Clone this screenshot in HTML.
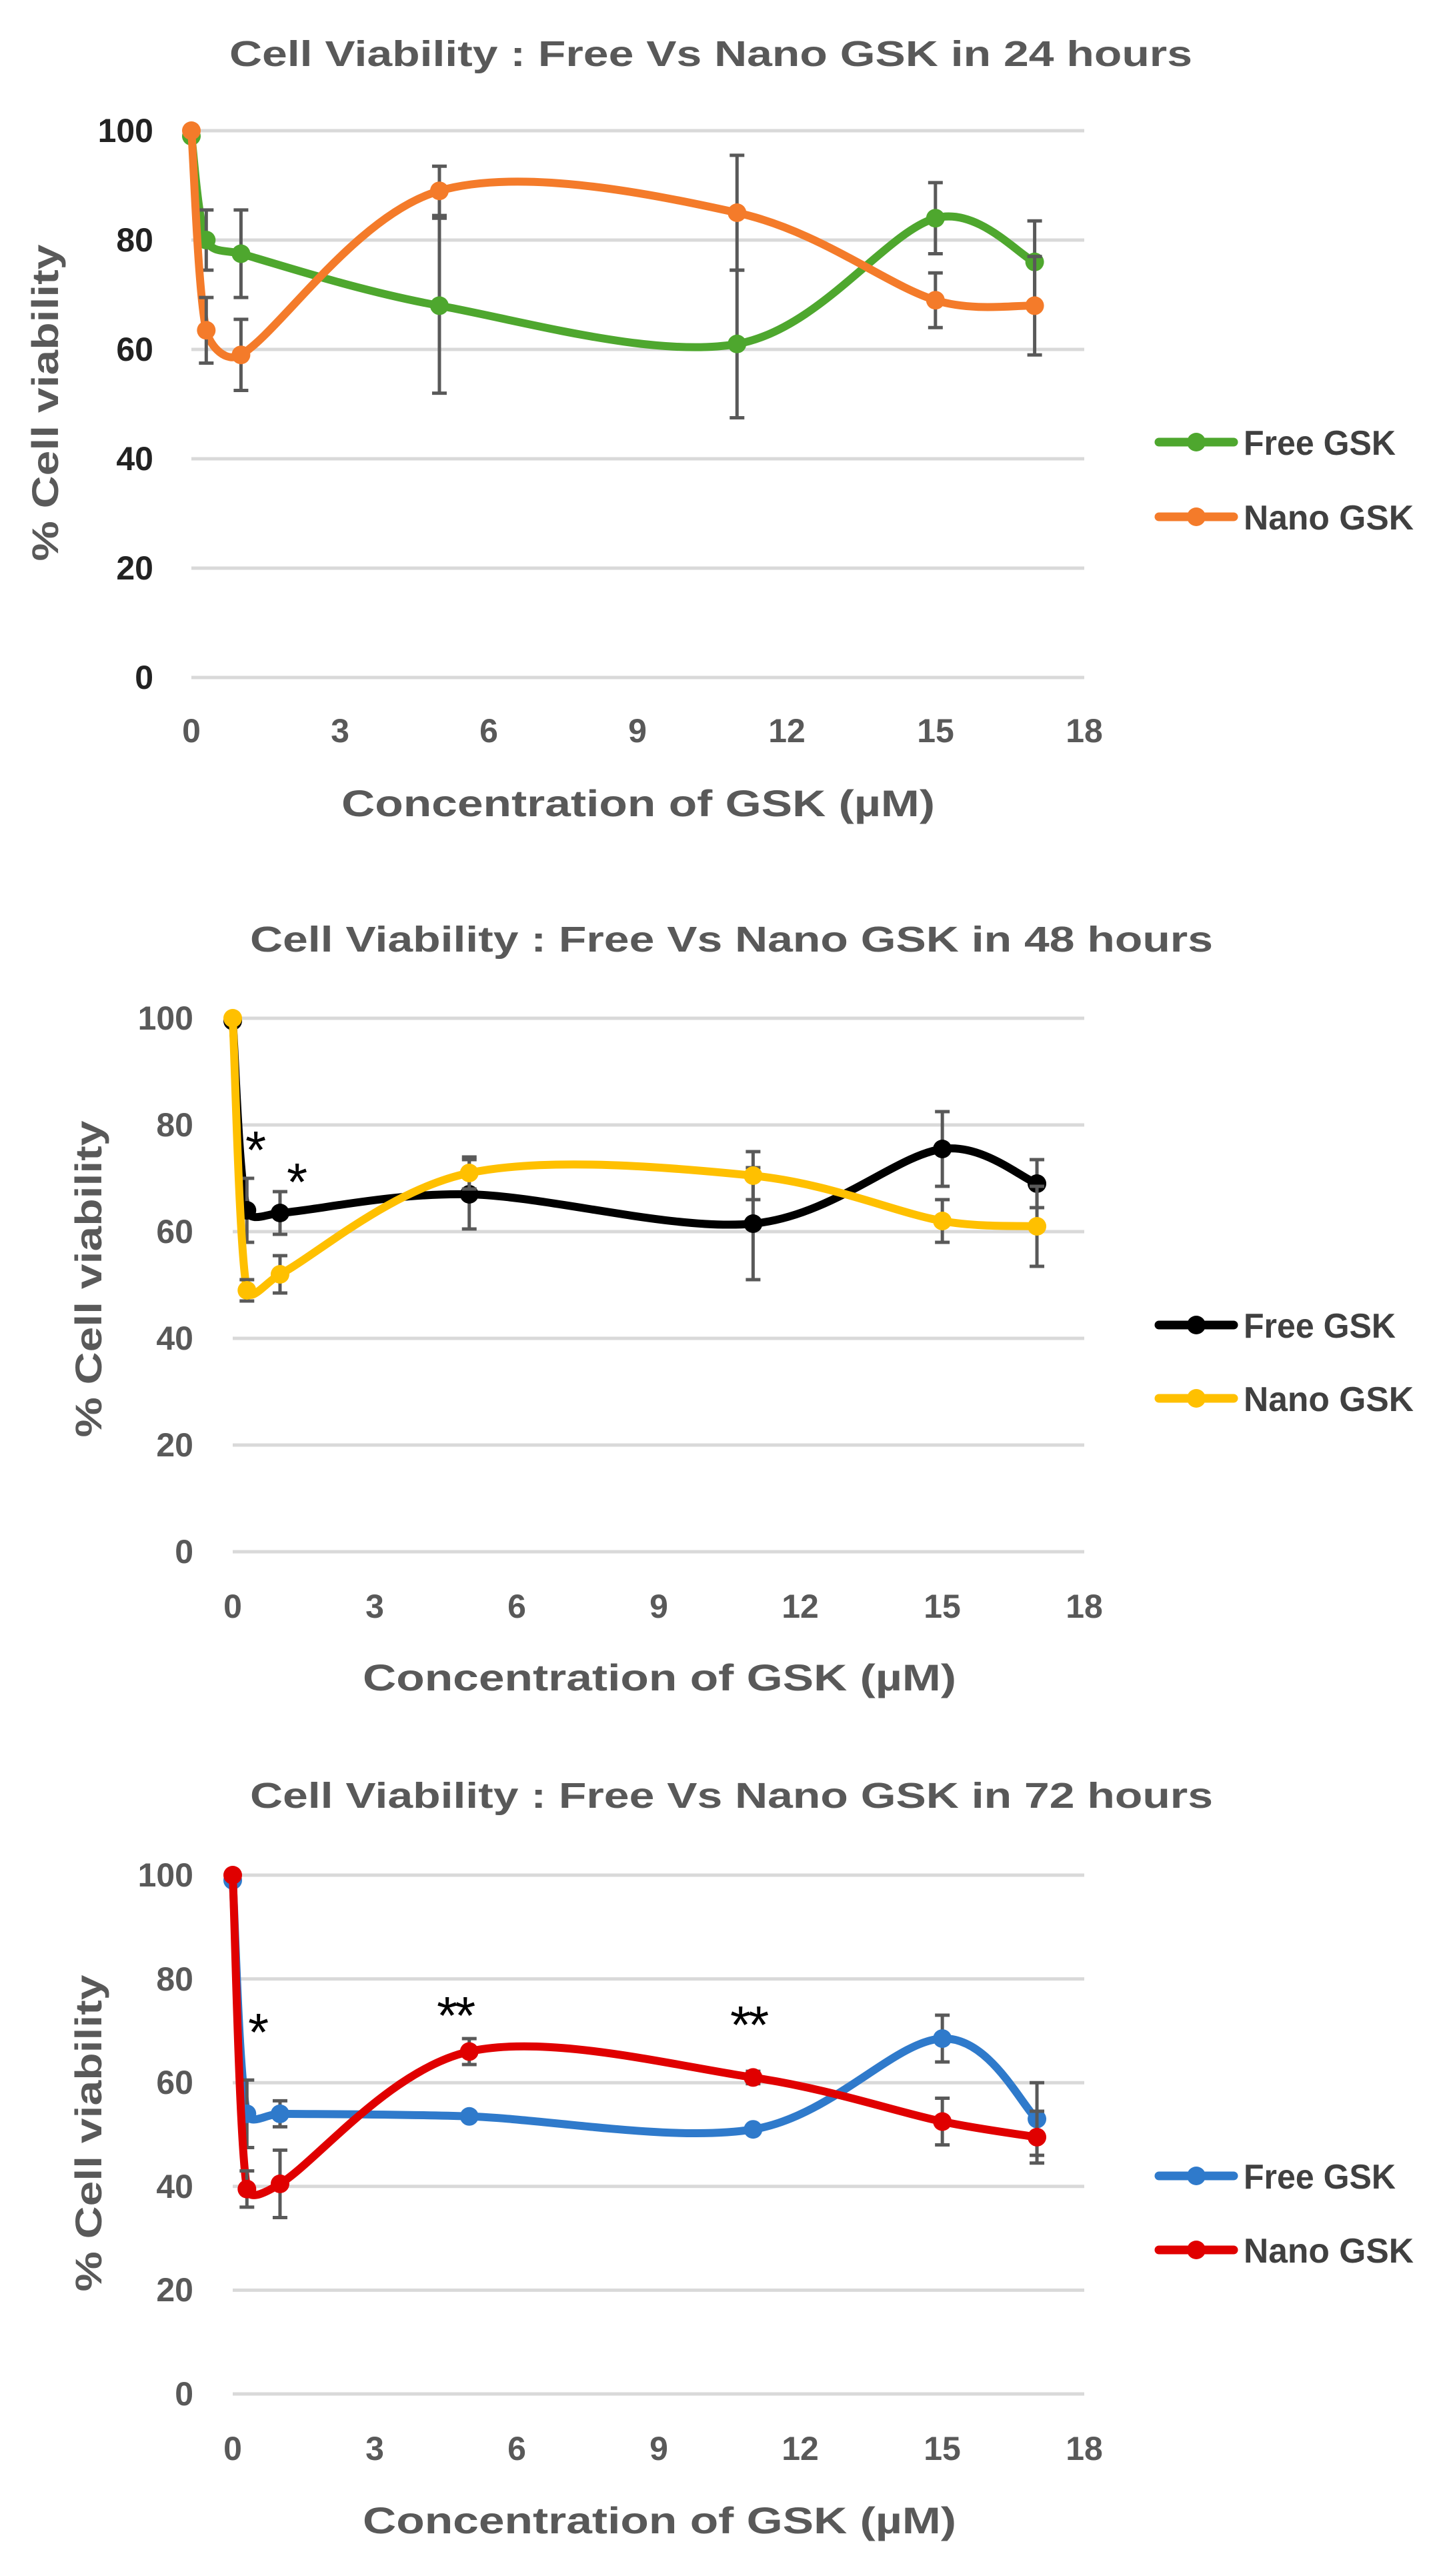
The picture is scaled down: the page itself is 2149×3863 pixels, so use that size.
<!DOCTYPE html>
<html><head><meta charset="utf-8"><style>
html,body{margin:0;padding:0;background:#fff;}
svg{display:block;}
text{font-family:"Liberation Sans",sans-serif;}
</style></head><body>
<svg id="s" xmlns="http://www.w3.org/2000/svg" width="2149" height="3863" viewBox="0 0 2149 3863">
<rect width="2149" height="3863" fill="#fff"/>
<g id="grids"></g>
<g id="data"></g>
<!-- Chart 1 text -->
<text x="1066" y="99" text-anchor="middle" font-size="54" font-weight="bold" fill="#595959" textLength="1444" lengthAdjust="spacingAndGlyphs">Cell Viability : Free Vs Nano GSK in 24 hours</text>
<g font-size="50" fill="#222" text-anchor="end" font-weight="bold">
<text x="230" y="213">100</text><text x="230" y="377">80</text><text x="230" y="541">60</text><text x="230" y="705">40</text><text x="230" y="869">20</text><text x="230" y="1033">0</text>
</g>
<g font-size="50" fill="#595959" text-anchor="middle" font-weight="bold">
<text x="287" y="1113">0</text><text x="510" y="1113">3</text><text x="733" y="1113">6</text><text x="956" y="1113">9</text><text x="1180" y="1113">12</text><text x="1403" y="1113">15</text><text x="1626" y="1113">18</text>
</g>
<text x="957" y="1224" text-anchor="middle" font-size="56" font-weight="bold" fill="#595959" textLength="890" lengthAdjust="spacingAndGlyphs">Concentration of GSK (µM)</text>
<text transform="translate(87,604) rotate(-90)" text-anchor="middle" font-size="56" font-weight="bold" fill="#595959" textLength="475" lengthAdjust="spacingAndGlyphs">% Cell viability</text>
<g font-size="52" font-weight="bold" fill="#404040">
<text x="1865" y="682" textLength="228" lengthAdjust="spacingAndGlyphs">Free GSK</text>
<text x="1865" y="794" textLength="255" lengthAdjust="spacingAndGlyphs">Nano GSK</text>
</g>
<!-- Chart 2 text -->
<text x="1097" y="1427" text-anchor="middle" font-size="54" font-weight="bold" fill="#595959" textLength="1444" lengthAdjust="spacingAndGlyphs">Cell Viability : Free Vs Nano GSK in 48 hours</text>
<g font-size="50" fill="#595959" text-anchor="end" font-weight="bold">
<text x="290" y="1544">100</text><text x="290" y="1704">80</text><text x="290" y="1864">60</text><text x="290" y="2024">40</text><text x="290" y="2184">20</text><text x="290" y="2344">0</text>
</g>
<g font-size="50" fill="#595959" text-anchor="middle" font-weight="bold">
<text x="349" y="2426">0</text><text x="562" y="2426">3</text><text x="775" y="2426">6</text><text x="988" y="2426">9</text><text x="1200" y="2426">12</text><text x="1413" y="2426">15</text><text x="1626" y="2426">18</text>
</g>
<text x="989" y="2535" text-anchor="middle" font-size="56" font-weight="bold" fill="#595959" textLength="890" lengthAdjust="spacingAndGlyphs">Concentration of GSK (µM)</text>
<text transform="translate(152,1918) rotate(-90)" text-anchor="middle" font-size="56" font-weight="bold" fill="#595959" textLength="475" lengthAdjust="spacingAndGlyphs">% Cell viability</text>
<g font-size="52" font-weight="bold" fill="#404040">
<text x="1865" y="2006" textLength="228" lengthAdjust="spacingAndGlyphs">Free GSK</text>
<text x="1865" y="2116" textLength="255" lengthAdjust="spacingAndGlyphs">Nano GSK</text>
</g>
<g font-size="80" fill="#000"><text x="368" y="1752">*</text><text x="430" y="1800">*</text></g>
<!-- Chart 3 text -->
<text x="1097" y="2711" text-anchor="middle" font-size="54" font-weight="bold" fill="#595959" textLength="1444" lengthAdjust="spacingAndGlyphs">Cell Viability : Free Vs Nano GSK in 72 hours</text>
<g font-size="50" fill="#595959" text-anchor="end" font-weight="bold">
<text x="290" y="2829">100</text><text x="290" y="2985">80</text><text x="290" y="3140">60</text><text x="290" y="3296">40</text><text x="290" y="3451">20</text><text x="290" y="3607">0</text>
</g>
<g font-size="50" fill="#595959" text-anchor="middle" font-weight="bold">
<text x="349" y="3689">0</text><text x="562" y="3689">3</text><text x="775" y="3689">6</text><text x="988" y="3689">9</text><text x="1200" y="3689">12</text><text x="1413" y="3689">15</text><text x="1626" y="3689">18</text>
</g>
<text x="989" y="3799" text-anchor="middle" font-size="56" font-weight="bold" fill="#595959" textLength="890" lengthAdjust="spacingAndGlyphs">Concentration of GSK (µM)</text>
<text transform="translate(152,3199) rotate(-90)" text-anchor="middle" font-size="56" font-weight="bold" fill="#595959" textLength="475" lengthAdjust="spacingAndGlyphs">% Cell viability</text>
<g font-size="52" font-weight="bold" fill="#404040">
<text x="1865" y="3282" textLength="228" lengthAdjust="spacingAndGlyphs">Free GSK</text>
<text x="1865" y="3393" textLength="255" lengthAdjust="spacingAndGlyphs">Nano GSK</text>
</g>
<g font-size="80" fill="#000"><text x="372" y="3075">*</text><text x="655" y="3050" letter-spacing="-4">**</text><text x="1095" y="3064" letter-spacing="-4">**</text></g>
</svg>
<script>
var NS="http://www.w3.org/2000/svg";
var G=document.getElementById("grids"),D=document.getElementById("data");
function el(p,t,a){var e=document.createElementNS(NS,t);for(var k in a)e.setAttribute(k,a[k]);p.appendChild(e);return e;}
var X=[0,0.3,1,5,11,15,17];
var charts=[
 {x0:287,x1:1626,y100:196,y0:1016,ly:[663,775],
  s:[{c:"#4EA72E",v:[99,80,77.5,68,61,84,76],e:[0,5.5,8,16,13.5,6.5,7.5]},
     {c:"#F47B2A",v:[100,63.5,59,89,85,69,68],e:[0,6,6.5,4.5,10.5,5,9]}]},
 {x0:349,x1:1626,y100:1527,y0:2327,ly:[1987,2097],
  s:[{c:"#000000",v:[99.5,64,63.5,67,61.5,75.5,69],e:[0,6,4,6.5,10.5,7,4.5]},
     {c:"#FFC000",v:[100,49,52,71,70.5,62,61],e:[0,2,3.5,3,4.5,4,7.5]}]},
 {x0:349,x1:1626,y100:2812,y0:3590,ly:[3263,3374],
  s:[{c:"#2F7ACB",v:[99,54,54,53.5,51,68.5,53],e:[0,6.5,2.5,0.5,0.5,4.5,7]},
     {c:"#E00000",v:[100,39.5,40.5,66,61,52.5,49.5],e:[0,3.5,6.5,2.5,1.2,4.5,5]}]}
];
function len(a,b){return Math.hypot(b[0]-a[0],b[1]-a[1]);}
charts.forEach(function(ch){
 var sx=function(x){return ch.x0+(ch.x1-ch.x0)*x/18;};
 var sy=function(v){return ch.y0+(ch.y100-ch.y0)*v/100;};
 for(var g=0;g<=100;g+=20){var y=sy(g);el(G,"line",{x1:ch.x0,x2:ch.x1,y1:y,y2:y,stroke:"#d9d9d9","stroke-width":5});}
 ch.s.forEach(function(s,si){
  var P=X.map(function(x,i){return [sx(x),sy(s.v[i])];});
  var d="M"+P[0][0]+","+P[0][1];
  function ctrl(pa,pc,pb,seg,sign){
   var L=len(pa,pb)||1, m=Math.min(L/6, seg*0.4);
   return [pc[0]+sign*(pb[0]-pa[0])/L*m, pc[1]+sign*(pb[1]-pa[1])/L*m];
  }
  for(var i=0;i<P.length-1;i++){
   var p0=P[Math.max(0,i-1)],p1=P[i],p2=P[i+1],p3=P[Math.min(P.length-1,i+2)];
   var seg=len(p1,p2);
   var c1=ctrl(p0,p1,p2,seg,1);
   var c2=ctrl(p1,p2,p3,seg,-1);
   d+=" C"+c1+" "+c2+" "+p2;
  }
  el(D,"path",{d:d,fill:"none",stroke:s.c,"stroke-width":12,"stroke-linejoin":"round"});
  P.forEach(function(p,i){
   if(s.e[i]>0){var a=sy(s.v[i]+s.e[i]),b=sy(s.v[i]-s.e[i]);
    el(D,"line",{x1:p[0],x2:p[0],y1:a,y2:b,stroke:"#595959","stroke-width":5});
    el(D,"line",{x1:p[0]-11,x2:p[0]+11,y1:a,y2:a,stroke:"#595959","stroke-width":5});
    el(D,"line",{x1:p[0]-11,x2:p[0]+11,y1:b,y2:b,stroke:"#595959","stroke-width":5});}
   el(D,"circle",{cx:p[0],cy:p[1],r:14,fill:s.c});
  });
  var ly=ch.ly[si];
  el(D,"line",{x1:1738,x2:1850,y1:ly,y2:ly,stroke:s.c,"stroke-width":13,"stroke-linecap":"round"});
  el(D,"circle",{cx:1794,cy:ly,r:14,fill:s.c});
 });
});
</script>
</body></html>
